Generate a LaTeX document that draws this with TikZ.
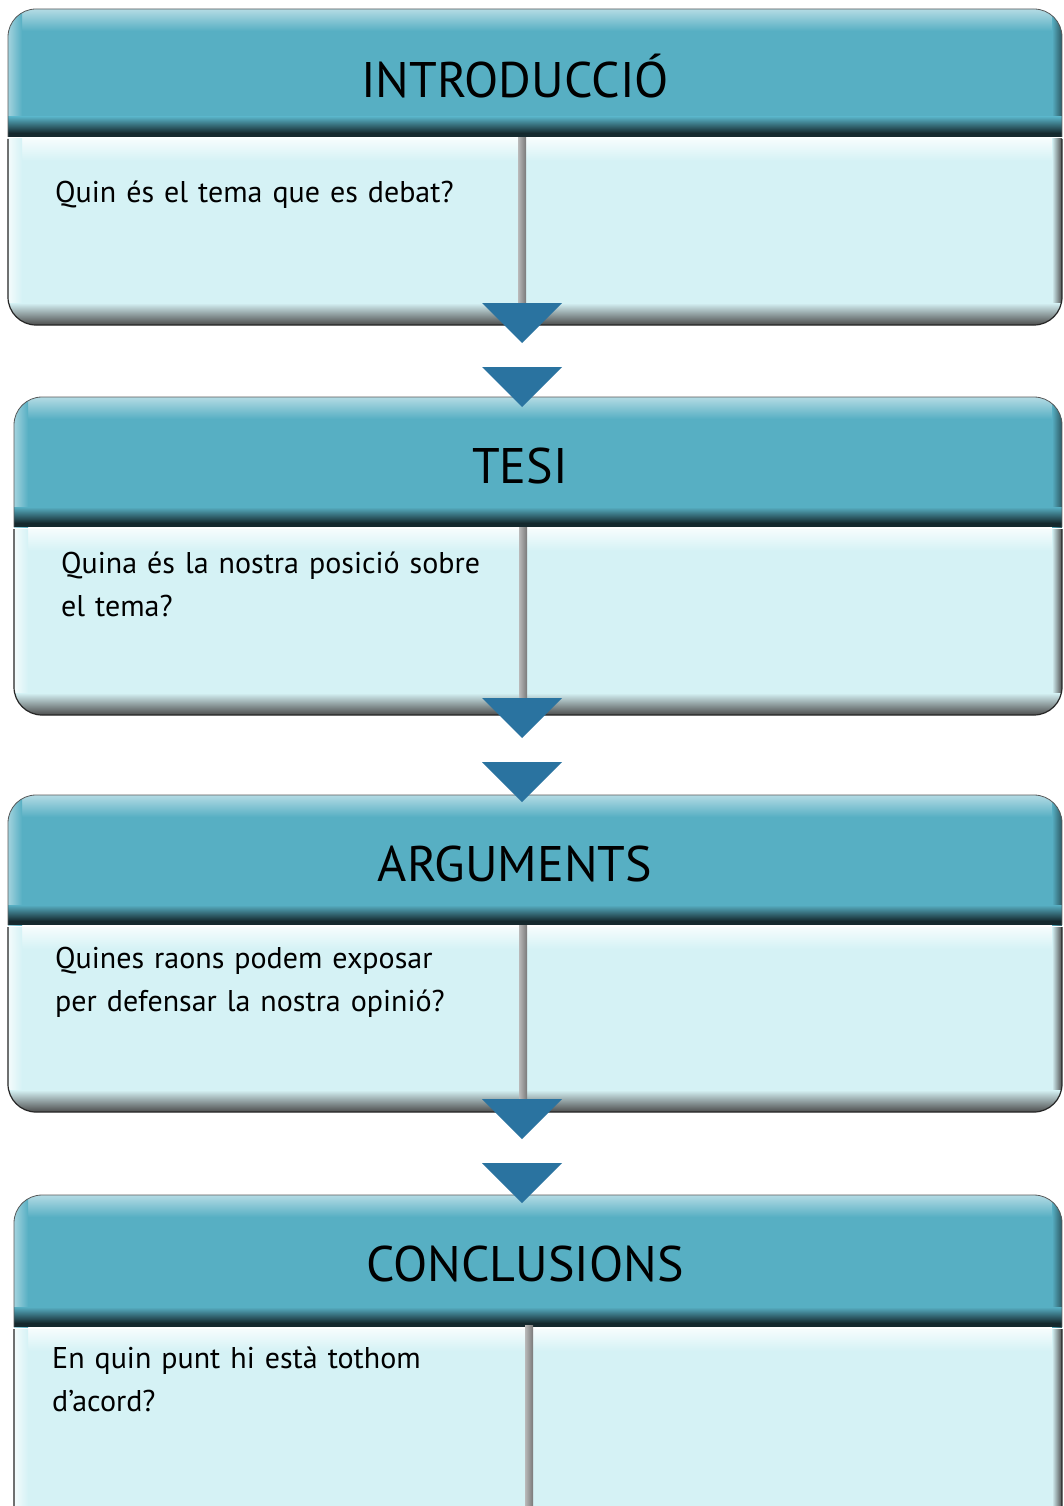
\documentclass[tikz,border=0pt]{standalone}
\usepackage{fontspec}
\setmainfont{PT Sans}
\newfontfamily\bodyfont[WordSpace=0.75]{PT Sans}
\usetikzlibrary{calc}
\definecolor{hdrc}{HTML}{57AFC3}
\definecolor{hdrdark}{HTML}{15292E}
\definecolor{bodyc}{HTML}{D5F2F5}
\definecolor{tric}{HTML}{2A73A0}
\definecolor{edgec}{HTML}{5A5A5A}
\tikzset{
  titletext/.style={font=\fontsize{50}{58}\selectfont, text=black, inner sep=0pt},
  bodytext/.style={font=\bodyfont\fontsize{30}{43}\selectfont, text=black, align=left, anchor=north west, inner sep=0pt, text width=460pt},
  arrowtri/.style={fill=tric},
}
% #1 left, #2 top, #3 header bottom, #4 bottom, #5 right
\newcommand{\mkpanel}[5]{%
  % header
  \begin{scope}
    \clip (#1,#2) rectangle (#5,#3);
    \clip[rounded corners=28pt] (#1,#2) rectangle (#5,#3+60);
    \fill[hdrc] (#1,#2) rectangle (#5,#3);
    \shade[top color=hdrc!45!white, bottom color=hdrc] (#1,#2) rectangle (#5,#2+22);
    \shade[left color=hdrc!55!white, right color=hdrc] (#1,#2) rectangle (#1+14,#3);
    \shade[left color=hdrc, right color=hdrc!50!black] (#5-10,#2) rectangle (#5,#3);
    \shade[top color=hdrc, bottom color=hdrdark] (#1,#3-20) rectangle (#5,#3-4);
    \fill[hdrdark] (#1,#3-4) rectangle (#5,#3);
  \end{scope}
  \draw[edgec, line width=0.8pt, rounded corners=28pt] (#1,#3) -- (#1,#2) -- (#5,#2) -- (#5,#3);
  % body
  \begin{scope}
    \clip (#1,#3+2) rectangle (#5,#4);
    \clip[rounded corners=28pt] (#1,#3-60) rectangle (#5,#4);
    \fill[bodyc] (#1,#3) rectangle (#5,#4);
    \shade[top color=white!85!bodyc, bottom color=bodyc] (#1,#3) rectangle (#5,#3+24);
    \shade[left color=white!75!bodyc, right color=bodyc] (#1,#3) rectangle (#1+14,#4);
    \shade[left color=bodyc, right color=black!70] (#5-10,#3) rectangle (#5,#4);
    \shade[top color=bodyc, bottom color=black!70] (#1,#4-22) rectangle (#5,#4);
  \end{scope}
  \draw[black!85, line width=1.2pt, rounded corners=28pt] (#1,#3+2) -- (#1,#4) -- (#5,#4) -- (#5,#3+2);
}
% #1 name, #2 x centre, #3 top y
\newcommand{\mktri}[3]{%
  \coordinate (#1) at (#2,#3);
  \fill[arrowtri] ($(#1)+(-40,0)$) -- ($(#1)+(40,0)$) -- ($(#1)+(0,40)$) -- cycle;
}
% divider from #1 to #2 (same x)
\newcommand{\mkdiv}[2]{%
  \shade[left color=gray!55, right color=gray!95!black] ($(#1)+(-4,0)$) rectangle ($(#2)+(4,0)$);
}
\begin{document}
\begin{tikzpicture}[x=1pt,y=-1pt]
\clip (0,0) rectangle (1063,1506);
\fill[white] (0,0) rectangle (1063,1506);

% panels
\mkpanel{8}{9}{137}{325}{1062}
\mkpanel{14}{397}{527}{715}{1062}
\mkpanel{8}{795}{925}{1112}{1062}
\mkpanel{14}{1195}{1327}{1570}{1062}

% titles
\node[titletext] (h1) at (515,76) {INTRODUCCIÓ};
\node[titletext] (h2) at (520,466) {TESI};
\node[titletext] (h3) at (515,864) {ARGUMENTS};
\node[titletext] (h4) at (525,1264) {CONCLUSIONS};

% body texts
\node[bodytext] (t1) at (55,181) {Quin és el tema que es debat?};
\node[bodytext] (t2) at (61,552) {Quina és la nostra posició sobre\\el tema?};
\node[bodytext] (t3) at (55,947) {Quines raons podem exposar\\per defensar la nostra opinió?};
\node[bodytext] (t4) at (52,1347) {En quin punt hi està tothom\\d’acord?};

% dividers and arrows
\coordinate (d1a) at (522,138);
\coordinate (d2a) at (523,527);
\coordinate (d3a) at (523,925);
\coordinate (d4a) at (529,1325);
\coordinate (d4b) at (529,1506);
\coordinate (a1) at (522,303);
\coordinate (a2) at (522,698);
\coordinate (a3) at (522,1099);
\mkdiv{d1a}{d1a |- a1}
\mkdiv{d2a}{d2a |- a2}
\mkdiv{d3a}{d3a |- a3}
\mkdiv{d4a}{d4b}
\mktri{a1}{522}{303}
\mktri{b1}{522}{367}
\mktri{a2}{522}{698}
\mktri{b2}{522}{762}
\mktri{a3}{522}{1099}
\mktri{b3}{522}{1163}
\end{tikzpicture}
\end{document}
